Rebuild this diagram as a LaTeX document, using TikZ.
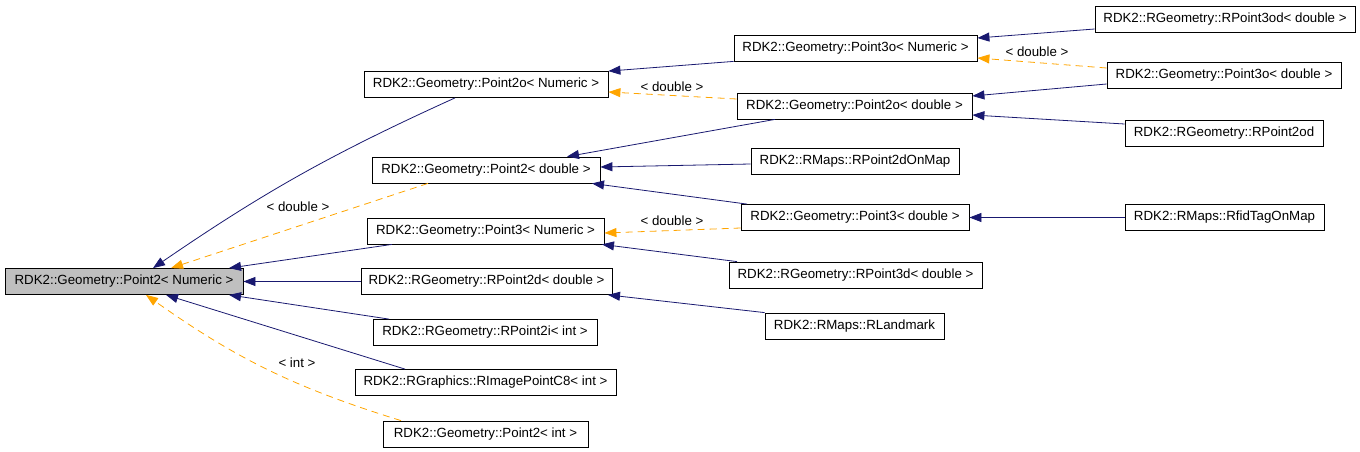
\documentclass[tikz,border=0pt]{standalone}
\usepackage{fontspec}
\setmainfont{Liberation Sans}
\usetikzlibrary{arrows.meta}
\definecolor{navyedge}{HTML}{191970}
\definecolor{tmpledge}{HTML}{FFA500}
\definecolor{rootgrey}{HTML}{BFBFBF}
\begin{document}
\begin{tikzpicture}[x=1pt,y=-1pt,
  cls/.style={draw=black, line width=0.8pt, minimum height=26pt, inner sep=0pt, font=\fontsize{13.3}{16}\selectfont},
  inh/.style={draw=navyedge, line width=0.8pt, -{Triangle[length=12pt,width=9pt]}},
  tpl/.style={draw=tmpledge, line width=0.8pt, dash pattern=on 7pt off 5pt, -{Triangle[length=12pt,width=9pt]}},
  lab/.style={font=\fontsize{13.3}{16}\selectfont, inner sep=0pt}]
\useasboundingbox (0,0) rectangle (1360,452);
% column 0
\node[cls, fill=rootgrey, minimum width=238pt] (root) at (124,281.5) {RDK2::Geometry::Point2< Numeric >};
% column 1
\node[cls, minimum width=244pt] (p2oN) at (486,84.5) {RDK2::Geometry::Point2o< Numeric >};
\node[cls, minimum width=228pt] (p2d) at (486,170) {RDK2::Geometry::Point2< double >};
\node[cls, minimum width=237pt] (p3N) at (485.5,231) {RDK2::Geometry::Point3< Numeric >};
\node[cls, minimum width=251pt] (rp2d) at (486.5,281.5) {RDK2::RGeometry::RPoint2d< double >};
\node[cls, minimum width=224pt] (rp2i) at (485,332.5) {RDK2::RGeometry::RPoint2i< int >};
\node[cls, minimum width=261pt] (rimg) at (485.5,382.5) {RDK2::RGraphics::RImagePointC8< int >};
\node[cls, minimum width=205pt] (p2i) at (485.5,434) {RDK2::Geometry::Point2< int >};
% column 2
\node[cls, minimum width=243pt] (p3oN) at (855.5,48) {RDK2::Geometry::Point3o< Numeric >};
\node[cls, minimum width=235pt] (p2od) at (854.5,106) {RDK2::Geometry::Point2o< double >};
\node[cls, minimum width=208pt] (rp2dmap) at (855,161.5) {RDK2::RMaps::RPoint2dOnMap};
\node[cls, minimum width=228pt] (p3d) at (855,217.5) {RDK2::Geometry::Point3< double >};
\node[cls, minimum width=253pt] (rp3d) at (855.5,275) {RDK2::RGeometry::RPoint3d< double >};
\node[cls, minimum width=179pt] (rland) at (854.5,326) {RDK2::RMaps::RLandmark};
% column 3
\node[cls, minimum width=260pt] (rp3od) at (1225,19) {RDK2::RGeometry::RPoint3od< double >};
\node[cls, minimum width=234pt] (p3od) at (1224,75) {RDK2::Geometry::Point3o< double >};
\node[cls, minimum width=198pt] (rp2od) at (1224,133) {RDK2::RGeometry::RPoint2od};
\node[cls, minimum width=199pt] (rfid) at (1224.5,217.5) {RDK2::RMaps::RfidTagOnMap};
% labels
\node[lab] (l1) at (298,207) {< double >};
\node[lab] (l2) at (297,363) {< int >};
\node[lab] (l3) at (672,87) {< double >};
\node[lab] (l4) at (672,221) {< double >};
\node[lab] (l5) at (1037,52) {< double >};
% edges into root
\draw[inh] ([xshift=-31pt]p2oN.south) to[bend right=5] ([xshift=29pt]root.north);
\draw[tpl] ([xshift=-58pt]p2d.south) -- ([xshift=47pt]root.north);
\draw[inh] ([xshift=-93.5pt]p3N.south) -- ([xshift=105pt]root.north);
\draw[inh] (rp2d.west) -- (root.east);
\draw[inh] ([xshift=-96pt]rp2i.north) -- ([xshift=105pt]root.south);
\draw[inh] ([xshift=-80.5pt]rimg.north) -- ([xshift=42pt]root.south);
\draw[tpl] ([xshift=-84.5pt]p2i.north) to[bend left=9] ([xshift=22pt]root.south);
% edges into column 1
\draw[inh] (p3oN.south west) -- (p2oN.north east);
\draw[tpl] ([yshift=7pt]p2od.west) -- ([yshift=-7.5pt]p2oN.east);
\draw[inh] ([xshift=-79.5pt]p2od.south) -- ([xshift=81pt]p2d.north);
\draw[inh] ([yshift=-2.5pt]rp2dmap.west) -- ([yshift=3pt]p2d.east);
\draw[inh] ([xshift=-108pt]p3d.north) -- ([xshift=106pt]p2d.south);
\draw[tpl] ([yshift=-10.5pt]p3d.west) -- ([yshift=-2pt]p3N.east);
\draw[inh] ([xshift=-118.5pt]rp3d.north) -- ([xshift=116.5pt]p3N.south);
\draw[inh] (rland.north west) -- ([xshift=121.5pt]rp2d.south);
% edges into column 2
\draw[inh] ([yshift=-10pt]rp3od.west) -- ([yshift=10pt]p3oN.east);
\draw[tpl] ([yshift=7pt]p3od.west) -- ([yshift=-10pt]p3oN.east);
\draw[inh] ([yshift=-9pt]p3od.west) -- ([yshift=10pt]p2od.east);
\draw[inh] ([yshift=9pt]rp2od.west) -- ([yshift=-9pt]p2od.east);
\draw[inh] (rfid.west) -- (p3d.east);
\end{tikzpicture}
\end{document}
